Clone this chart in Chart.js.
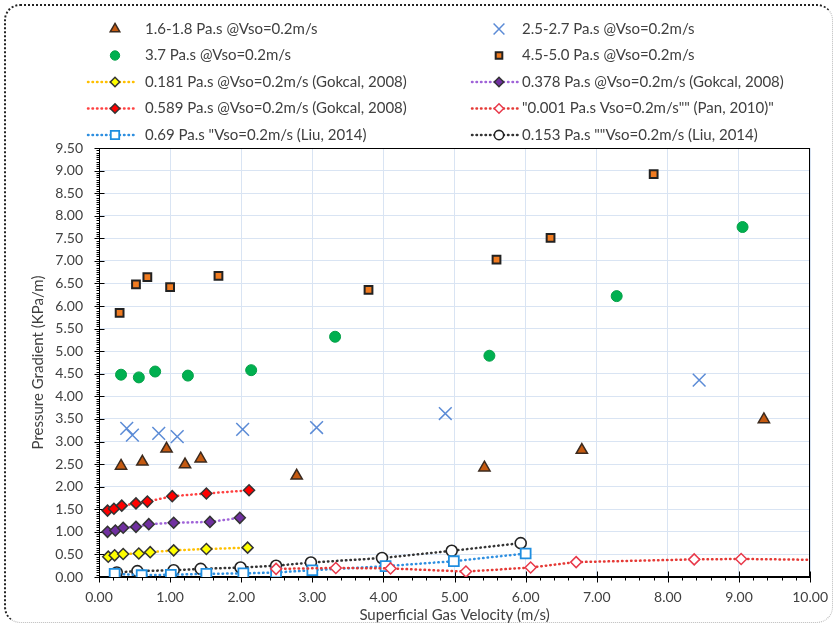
<!DOCTYPE html>
<html>
<head>
<meta charset="utf-8">
<script src="https://cdn.jsdelivr.net/npm/chart.js@4/dist/chart.umd.min.js"></script>
<style>
  body { margin: 0; background: #fff; }
  #wrap { position: relative; width: 840px; height: 628px; }
  #frame {
    position: absolute; left: 4px; top: 4px; width: 826px; height: 616px;
    border-top: 2.5px dotted #222; border-left: 2.5px dotted #222;
    border-right: 1.5px dotted #bbb; border-bottom: 1.5px dotted #bbb;
    border-radius: 16px; pointer-events: none;
  }
</style>
</head>
<body>
<div id="wrap">
  <canvas id="chart" width="840" height="628"></canvas>
  <div id="frame"></div>
</div>
<script>
// axis ranges
const xMin = 0, xMax = 10, xStep = 1;
const yMin = 0, yMax = 9.5, yStep = 0.5;

// this study, Vso = 0.2 m/s
const visc16X = [0.31, 0.61, 0.95, 1.21, 1.43, 2.78, 5.42, 6.79, 9.35];
const visc16Y = [2.46, 2.55, 2.84, 2.49, 2.62, 2.24, 2.42, 2.81, 3.49];
const visc25X = [0.39, 0.47, 0.84, 1.10, 2.02, 3.06, 4.87, 8.44];
const visc25Y = [3.29, 3.14, 3.18, 3.11, 3.27, 3.31, 3.62, 4.36];
const visc37X = [0.31, 0.56, 0.79, 1.25, 2.14, 3.32, 5.49, 7.28, 9.05];
const visc37Y = [4.48, 4.42, 4.55, 4.46, 4.58, 5.32, 4.90, 6.22, 7.75];
const visc45X = [0.29, 0.52, 0.68, 1.00, 1.68, 3.79, 5.59, 6.35, 7.80];
const visc45Y = [5.85, 6.48, 6.64, 6.42, 6.67, 6.36, 7.03, 7.51, 8.92];

// literature
const gok181X = [0.13, 0.22, 0.34, 0.56, 0.72, 1.05, 1.51, 2.09];
const gok181Y = [0.45, 0.48, 0.51, 0.52, 0.55, 0.59, 0.62, 0.65];
const gok378X = [0.12, 0.23, 0.34, 0.52, 0.70, 1.05, 1.56, 1.98];
const gok378Y = [1.00, 1.03, 1.09, 1.11, 1.17, 1.20, 1.22, 1.31];
const gok589X = [0.12, 0.21, 0.32, 0.52, 0.68, 1.03, 1.51, 2.11];
const gok589Y = [1.47, 1.51, 1.58, 1.63, 1.67, 1.79, 1.85, 1.92];
const pan001X = [2.49, 3.33, 4.10, 5.16, 6.07, 6.71, 8.37, 9.03, 10.60];
const pan001Y = [0.18, 0.20, 0.19, 0.12, 0.21, 0.33, 0.39, 0.40, 0.37];
const liu069X = [0.22, 0.60, 1.01, 1.51, 2.03, 2.49, 3.00, 4.03, 4.99, 6.00];
const liu069Y = [0.07, 0.04, 0.05, 0.07, 0.08, 0.10, 0.15, 0.24, 0.35, 0.52];
const liu153X = [0.25, 0.54, 1.05, 1.43, 1.99, 2.49, 2.98, 3.98, 4.96, 5.93];
const liu153Y = [0.10, 0.13, 0.15, 0.18, 0.21, 0.25, 0.32, 0.42, 0.58, 0.75];

const FONT = 'Lato';

function pts(xs, ys) {
  return xs.map((x, i) => ({ x: x, y: ys[i] }));
}

function marks(label, xs, ys, style, radius, fill, edge, edgeWidth) {
  return {
    label: label, data: pts(xs, ys), showLine: false,
    pointStyle: style, pointRadius: radius, pointHoverRadius: radius,
    pointBackgroundColor: fill, pointBorderColor: edge, pointBorderWidth: edgeWidth
  };
}

function dotted(label, xs, ys, lineColor, style, radius, fill, edge, edgeWidth) {
  const d = marks(label, xs, ys, style, radius, fill, edge, edgeWidth);
  d.showLine = true;
  d.borderColor = lineColor;
  d.borderWidth = 2.5;
  d.borderDash = [0.5, 4];
  d.borderCapStyle = 'round';
  return d;
}

const datasets = [
  marks('1.6-1.8 Pa.s @Vso=0.2m/s', visc16X, visc16Y, 'triangle', 6.5, '#c55a11', '#3b2a1e', 1.5),
  marks('2.5-2.7 Pa.s @Vso=0.2m/s', visc25X, visc25Y, 'crossRot', 9, '#5b8bd6', '#5b8bd6', 1.5),
  marks('3.7 Pa.s @Vso=0.2m/s', visc37X, visc37Y, 'circle', 5.5, '#00b050', '#05a048', 1),
  marks('4.5-5.0 Pa.s @Vso=0.2m/s', visc45X, visc45Y, 'rect', 5.5, '#f07b20', '#222', 2),
  dotted('0.181 Pa.s @Vso=0.2m/s (Gokcal, 2008)', gok181X, gok181Y, '#ffc000', 'rectRot', 5.5, '#ffff00', '#333', 1.5),
  dotted('0.378 Pa.s @Vso=0.2m/s (Gokcal, 2008)', gok378X, gok378Y, '#a064d8', 'rectRot', 5.5, '#7030a0', '#333', 1.5),
  dotted('0.589 Pa.s @Vso=0.2m/s (Gokcal, 2008)', gok589X, gok589Y, '#ff4040', 'rectRot', 5.5, '#ff0000', '#333', 1.5),
  dotted('"0.001 Pa.s Vso=0.2m/s"" (Pan, 2010)"', pan001X, pan001Y, '#e53935', 'rectRot', 5.5, '#fff', '#e8394a', 1.5),
  dotted('0.69 Pa.s "Vso=0.2m/s (Liu, 2014)', liu069X, liu069Y, '#2e8fe0', 'rect', 7, '#fff', '#1f8ee0', 1.8),
  dotted('0.153 Pa.s ""Vso=0.2m/s (Liu, 2014)', liu153X, liu153Y, '#333', 'circle', 5.5, '#fff', '#222', 1.6)
];

// box around plot + major/minor tick marks
const frameTicks = {
  id: 'frameTicks',
  beforeDatasetsDraw(chart) {
    const { ctx, chartArea: a, scales } = chart;
    const L = Math.round(a.left) + 0.5, R = Math.round(a.right) - 0.5;
    const T = Math.round(a.top) + 0.5, B = Math.round(a.bottom) - 0.5;
    ctx.save();
    ctx.strokeStyle = '#000';
    ctx.lineWidth = 1;
    ctx.strokeRect(L, T, R - L, B - T);
    ctx.beginPath();
    for (let i = 0; i <= 190; i++) {
      const py = Math.round(scales.y.getPixelForValue(i * 0.05)) + 0.5;
      if (i % 10 === 0) { ctx.moveTo(L - 5, py); ctx.lineTo(L + 5, py); }
      else { ctx.moveTo(L - 3, py); ctx.lineTo(L, py); }
    }
    for (let i = 0; i <= 50; i++) {
      const px = Math.round(scales.x.getPixelForValue(i * 0.2)) + 0.5;
      if (i % 5 === 0) { ctx.moveTo(px, B - 5); ctx.lineTo(px, B + 6); }
      else { ctx.moveTo(px, B); ctx.lineTo(px, B + 4); }
    }
    ctx.stroke();
    ctx.restore();
  }
};

// two-column legend above the plot
const sideLegend = {
  id: 'sideLegend',
  afterDraw(chart) {
    const ctx = chart.ctx;
    chart.data.datasets.forEach((ds, i) => {
      const row = Math.floor(i / 2), col = i % 2;
      const cx = col ? 499 : 115;
      const cy = 29 + row * 26.5;
      ctx.save();
      if (ds.showLine) {
        ctx.strokeStyle = ds.borderColor;
        ctx.lineWidth = ds.borderWidth;
        ctx.lineCap = 'round';
        ctx.setLineDash(ds.borderDash);
        ctx.beginPath();
        ctx.moveTo(cx - 27, cy);
        ctx.lineTo(cx + 22, cy);
        ctx.stroke();
      }
      ctx.setLineDash([]);
      ctx.fillStyle = ds.pointBackgroundColor;
      ctx.strokeStyle = ds.pointBorderColor;
      ctx.lineWidth = ds.pointBorderWidth;
      Chart.helpers.drawPoint(ctx, {
        pointStyle: ds.pointStyle, radius: ds.pointRadius * 0.85,
        borderWidth: ds.pointBorderWidth, rotation: 0
      }, cx, cy);
      ctx.fillStyle = '#404040';
      ctx.font = '15px ' + FONT;
      ctx.textBaseline = 'middle';
      ctx.fillText(ds.label, col ? 522 : 145, cy);
      ctx.restore();
    });
  }
};

new Chart(document.getElementById('chart'), {
  type: 'scatter',
  data: { datasets: datasets },
  options: {
    responsive: false,
    animation: false,
    devicePixelRatio: 1,
    layout: { padding: { top: 148, right: 29, left: 0, bottom: 0 } },
    plugins: { legend: { display: false }, tooltip: { enabled: false } },
    scales: {
      x: {
        type: 'linear', min: xMin, max: xMax,
        afterFit: (s) => { s.height = 51; },
        grid: { color: '#d9e4f3', drawTicks: false },
        border: { color: '#000' },
        ticks: {
          stepSize: xStep, padding: 12, color: '#404040',
          font: { family: FONT, size: 14 },
          callback: (v) => v.toFixed(2)
        },
        title: {
          display: true, text: 'Superficial Gas Velocity (m/s)', color: '#404040',
          font: { family: FONT, size: 15 }, padding: { top: 4, bottom: 4 }
        }
      },
      y: {
        type: 'linear', min: yMin, max: yMax,
        afterFit: (s) => { s.width = 99; },
        grid: { color: '#d9e4f3', drawTicks: false },
        border: { color: '#000' },
        ticks: {
          stepSize: yStep, padding: 16, color: '#404040',
          font: { family: FONT, size: 14 },
          callback: (v) => v.toFixed(2)
        },
        title: {
          display: true, text: 'Pressure Gradient (KPa/m)', color: '#404040',
          font: { family: FONT, size: 15 }, padding: { top: 29, bottom: 29 }
        }
      }
    }
  },
  plugins: [frameTicks, sideLegend]
});
</script>
</body>
</html>
